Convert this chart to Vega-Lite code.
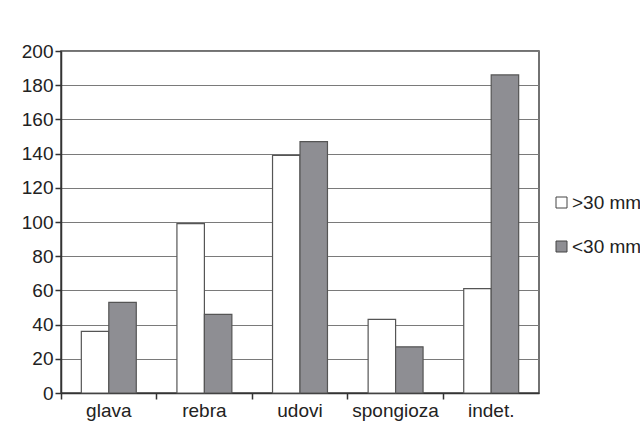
{
  "$schema": "https://vega.github.io/schema/vega-lite/v6.json",
  "autosize": {"type": "none"},
  "width": 478,
  "height": 342,
  "padding": {"left": 61, "top": 51, "right": 101, "bottom": 51},
  "background": "white",
  "config": {
    "font": "Liberation Sans",
    "view": {"stroke": "#444444", "strokeWidth": 1.5},
    "axis": {"labelFont": "Liberation Sans", "labelColor": "#222222", "labelFontSize": 19}
  },
  "data": {
    "values": [
      {"part": "glava", "series": ">30 mm", "value": 36},
      {"part": "glava", "series": "<30 mm", "value": 53},
      {"part": "rebra", "series": ">30 mm", "value": 99},
      {"part": "rebra", "series": "<30 mm", "value": 46},
      {"part": "udovi", "series": ">30 mm", "value": 139},
      {"part": "udovi", "series": "<30 mm", "value": 147},
      {"part": "spongioza", "series": ">30 mm", "value": 43},
      {"part": "spongioza", "series": "<30 mm", "value": 27},
      {"part": "indet.", "series": ">30 mm", "value": 61},
      {"part": "indet.", "series": "<30 mm", "value": 186}
    ]
  },
  "mark": {"type": "bar", "stroke": "#555555", "strokeWidth": 1.2},
  "encoding": {
    "x": {
      "field": "part",
      "type": "nominal",
      "sort": ["glava", "rebra", "udovi", "spongioza", "indet."],
      "scale": {"paddingInner": 0, "paddingOuter": 0},
      "axis": {
        "title": null,
        "labelAngle": 0,
        "bandPosition": 0,
        "tickSize": 6,
        "tickColor": "#333333",
        "tickWidth": 1.5,
        "domainColor": "#333333",
        "domainWidth": 1.5,
        "labelPadding": 2,
        "grid": false
      }
    },
    "xOffset": {
      "field": "series",
      "type": "nominal",
      "sort": [">30 mm", "<30 mm"],
      "scale": {"paddingInner": 0, "paddingOuter": 0.74}
    },
    "y": {
      "field": "value",
      "type": "quantitative",
      "scale": {"domain": [0, 200], "nice": false},
      "axis": {
        "title": null,
        "values": [0, 20, 40, 60, 80, 100, 120, 140, 160, 180, 200],
        "grid": true,
        "gridColor": "#7a7a7a",
        "gridWidth": 1,
        "gridOpacity": 1,
        "tickSize": 6,
        "tickColor": "#333333",
        "tickWidth": 1.5,
        "domainColor": "#333333",
        "domainWidth": 1.5,
        "labelPadding": 2
      }
    },
    "fill": {
      "field": "series",
      "type": "nominal",
      "sort": [">30 mm", "<30 mm"],
      "scale": {"domain": [">30 mm", "<30 mm"], "range": ["#ffffff", "#8e8e93"]},
      "legend": {
        "title": null,
        "orient": "none",
        "legendX": 491,
        "legendY": 142,
        "symbolType": "square",
        "symbolSize": 121,
        "symbolStrokeColor": "#444444",
        "symbolStrokeWidth": 1,
        "labelFontSize": 19,
        "labelFont": "Liberation Sans",
        "labelColor": "#222222",
        "labelOffset": 1,
        "rowPadding": 24
      }
    }
  }
}
